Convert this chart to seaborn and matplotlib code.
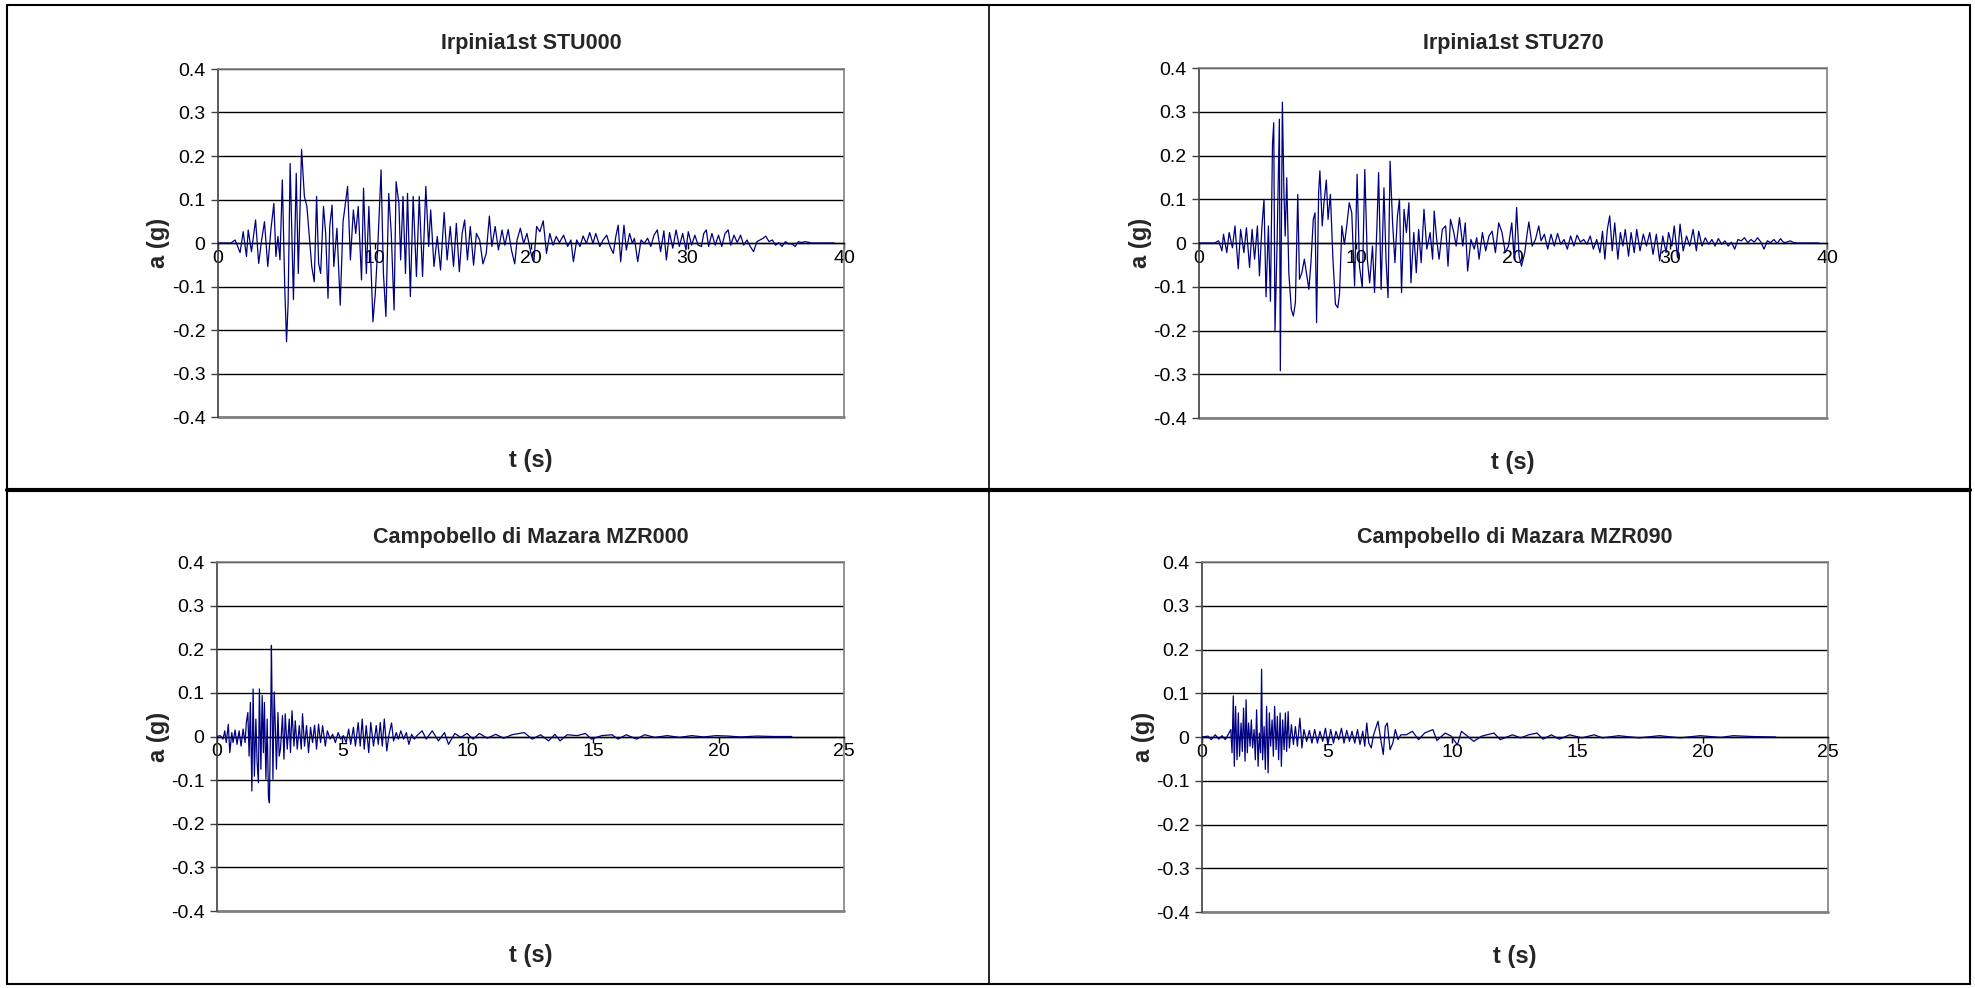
import matplotlib
matplotlib.use("Agg")
import matplotlib.pyplot as plt
import seaborn as sns
import pandas as pd
from matplotlib.lines import Line2D

# ---------------- data ----------------
titles = ["Irpinia1st STU000", "Irpinia1st STU270",
          "Campobello di Mazara MZR000", "Campobello di Mazara MZR090"]
y_ticks = [0.4, 0.3, 0.2, 0.1, 0.0, -0.1, -0.2, -0.3, -0.4]
y_tick_labels = ["0.4", "0.3", "0.2", "0.1", "0", "-0.1", "-0.2", "-0.3", "-0.4"]
x_ticks_irpinia = [0, 10, 20, 30, 40]
x_ticks_campobello = [0, 5, 10, 15, 20, 25]
x_label = "t (s)"
y_label = "a (g)"

stu000_t = [0, 0.83, 1.09, 1.41, 1.61, 1.82, 1.93, 2.14, 2.40, 2.60, 2.79, 2.97, 3.18, 3.39, 3.57, 3.70,
            3.83, 3.96, 4.11, 4.27, 4.38, 4.48, 4.61, 4.82, 5.00, 5.13, 5.34, 5.52, 5.68, 5.81, 5.99,
            6.15, 6.30, 6.43, 6.56, 6.74, 6.88, 7.03, 7.14, 7.29, 7.40, 7.60, 7.81, 7.99, 8.28, 8.46,
            8.65, 8.80, 8.96, 9.17, 9.30, 9.48, 9.64, 9.90, 10.05, 10.21, 10.42, 10.57, 10.73, 10.91,
            11.07, 11.25, 11.38, 11.56, 11.67, 11.82, 11.98, 12.11, 12.29, 12.47, 12.68, 12.86, 13.07,
            13.28, 13.46, 13.59, 13.80, 14.01, 14.22, 14.45, 14.64, 14.84, 15.05, 15.23, 15.42, 15.60,
            15.76, 15.94, 16.12, 16.33, 16.51, 16.72, 16.93, 17.14, 17.34, 17.50, 17.71, 17.92, 18.15,
            18.33, 18.54, 18.75, 18.96, 19.11, 19.32, 19.53, 19.74, 20.00, 20.18, 20.36, 20.57, 20.78,
            20.99, 21.20, 21.41, 21.61, 21.82, 22.08, 22.34, 22.55, 22.71, 22.92, 23.13, 23.33, 23.54,
            23.75, 23.96, 24.14, 24.40, 24.61, 24.84, 25.05, 25.26, 25.42, 25.57, 25.73, 25.94, 26.09,
            26.30, 26.48, 26.61, 26.82, 27.03, 27.24, 27.45, 27.66, 27.86, 28.07, 28.28, 28.49, 28.65,
            28.85, 29.06, 29.27, 29.48, 29.69, 29.90, 30.05, 30.26, 30.47, 30.68, 30.89, 31.04, 31.20,
            31.35, 31.56, 31.77, 31.98, 32.19, 32.40, 32.60, 32.76, 32.97, 33.18, 33.39, 33.59, 33.80,
            34.01, 34.22, 34.43, 34.64, 34.84, 35.00, 35.21, 35.42, 35.63, 35.83, 36.04, 36.25, 36.46,
            36.67, 36.88, 37.08, 37.29, 37.50, 37.71, 37.92, 39.38]
stu000_a = [0, 0, 0.007, -0.022, 0.026, -0.031, 0.030, -0.020, 0.053, -0.047, 0.007, 0.049, -0.054, 0.034,
            0.091, -0.031, 0.015, -0.039, 0.145, -0.108, -0.227, -0.139, 0.183, -0.130, 0.160, -0.070,
            0.215, 0.107, 0.084, 0.026, -0.054, -0.089, 0.107, -0.047, -0.070, 0.084, 0.022, -0.127,
            0.038, 0.087, -0.054, 0.034, -0.143, 0.049, 0.130, -0.039, 0.076, 0.022, 0.084, -0.085,
            0.126, -0.070, 0.084, -0.181, -0.116, -0.008, 0.168, -0.070, -0.169, 0.114, 0.022, -0.154,
            0.141, 0.091, -0.039, 0.107, -0.070, 0.114, -0.123, 0.107, -0.077, 0.107, -0.077, 0.130,
            -0.008, 0.076, -0.054, 0.015, -0.062, 0.070, -0.039, 0.038, -0.054, 0.045, -0.066, 0.022,
            0.053, -0.039, 0.038, -0.051, 0.022, 0.007, -0.048, -0.024, 0.062, -0.008, 0.038, -0.016,
            0.030, -0.005, 0.031, -0.016, -0.048, 0.007, 0.034, -0.001, 0.022, -0.024, -0.043, 0.038,
            0.026, 0.051, -0.024, 0.022, -0.005, 0.015, 0.001, 0.018, -0.008, 0.007, -0.043, 0.007,
            -0.008, 0.016, -0.001, 0.024, -0.001, 0.022, -0.008, 0.007, 0.018, -0.008, -0.024, 0.015,
            0.041, -0.043, 0.041, -0.016, 0.022, -0.001, 0.011, -0.043, 0.007, -0.001, 0.011, -0.008,
            0.018, 0.030, -0.020, 0.028, -0.039, 0.024, -0.012, 0.030, -0.008, 0.022, -0.016, 0.026,
            -0.005, 0.018, -0.005, -0.008, 0.022, 0.030, -0.008, 0.022, -0.005, 0.018, -0.008, 0.022,
            0.030, -0.005, 0.018, 0.001, 0.018, -0.005, 0.007, -0.008, -0.020, 0.003, 0.007, 0.011,
            0.016, 0.003, 0.007, -0.005, 0.001, -0.008, 0.003, -0.002, -0.002, -0.008, 0.003, 0.001,
            0.003, 0.002, 0, 0]

stu270_t = [0, 0.99, 1.25, 1.46, 1.56, 1.77, 1.92, 2.13, 2.29, 2.50, 2.65, 2.86, 3.02, 3.22, 3.38, 3.54,
            3.72, 3.85, 4.01, 4.14, 4.27, 4.42, 4.55, 4.68, 4.76, 4.84, 4.97, 5.12, 5.18, 5.31, 5.41,
            5.49, 5.59, 5.72, 5.88, 6.01, 6.14, 6.29, 6.40, 6.55, 6.71, 6.87, 7.00, 7.13, 7.28, 7.39,
            7.49, 7.62, 7.70, 7.85, 7.96, 8.11, 8.22, 8.37, 8.53, 8.69, 8.84, 8.95, 9.10, 9.26, 9.41,
            9.57, 9.73, 9.91, 10.07, 10.22, 10.40, 10.56, 10.72, 10.87, 11.05, 11.18, 11.34, 11.44,
            11.60, 11.78, 11.91, 12.04, 12.17, 12.33, 12.48, 12.64, 12.77, 12.90, 13.06, 13.21, 13.37,
            13.50, 13.68, 13.84, 13.99, 14.15, 14.33, 14.51, 14.72, 14.88, 14.98, 15.14, 15.29, 15.50,
            15.71, 15.86, 16.02, 16.23, 16.38, 16.59, 16.80, 16.96, 17.11, 17.32, 17.53, 17.69, 17.84,
            18.05, 18.26, 18.47, 18.67, 18.88, 19.09, 19.30, 19.51, 19.71, 19.92, 20.08, 20.23, 20.39,
            20.54, 20.75, 20.91, 21.01, 21.22, 21.43, 21.64, 21.79, 22.00, 22.21, 22.42, 22.63, 22.84,
            23.04, 23.25, 23.46, 23.67, 23.88, 24.08, 24.29, 24.50, 24.71, 24.92, 25.12, 25.33, 25.54,
            25.70, 25.85, 26.01, 26.16, 26.32, 26.48, 26.68, 26.84, 27.00, 27.15, 27.36, 27.52, 27.72,
            27.88, 28.09, 28.30, 28.50, 28.71, 28.92, 29.13, 29.34, 29.54, 29.75, 29.91, 30.12, 30.27,
            30.48, 30.64, 30.84, 31.05, 31.26, 31.47, 31.68, 31.83, 32.04, 32.25, 32.46, 32.67, 32.87,
            33.08, 33.29, 33.50, 33.71, 33.91, 34.12, 34.33, 34.54, 34.74, 34.95, 35.16, 35.37, 35.58,
            35.79, 35.99, 36.20, 36.41, 36.62, 36.83, 37.04, 37.24, 37.45, 37.66, 37.87, 38.08, 39.48]
stu270_a = [0, 0, 0.005, -0.018, 0.020, -0.022, 0.024, -0.011, 0.039, -0.059, 0.031, -0.022, 0.035,
            -0.056, 0.031, -0.037, 0.039, -0.075, 0.039, 0.100, -0.123, 0.039, -0.133, 0.225, 0.275,
            -0.201, -0.007, 0.283, -0.292, 0.322, 0.115, 0.016, 0.149, -0.068, -0.152, -0.167, -0.136,
            0.111, -0.083, -0.068, -0.037, -0.075, -0.106, -0.045, 0.054, 0.069, -0.182, 0.115, 0.165,
            0.039, 0.092, 0.144, 0.054, 0.111, -0.037, -0.140, -0.148, -0.117, 0.039, -0.003, 0.039,
            0.092, 0.069, -0.098, 0.157, -0.053, -0.102, 0.168, -0.037, -0.091, -0.007, -0.113, 0.046,
            0.161, -0.106, 0.126, -0.037, -0.125, 0.187, 0.046, -0.045, 0.062, 0.100, -0.113, 0.077,
            0.024, 0.092, -0.091, 0.024, -0.068, 0.031, -0.045, 0.077, -0.014, 0.024, -0.037, 0.073,
            0.008, -0.037, 0.031, 0.039, -0.053, 0.054, 0.024, -0.007, 0.058, -0.007, 0.046, -0.064,
            0.008, -0.014, 0.012, -0.037, 0.024, -0.018, 0.016, 0.027, -0.022, 0.046, 0.024, -0.022,
            -0.007, 0.046, -0.037, 0.081, -0.030, -0.053, -0.022, 0.024, 0.048, -0.007, 0.008, 0.039,
            0.005, 0.020, -0.014, 0.020, -0.007, 0.022, -0.003, 0.008, -0.014, 0.016, -0.007, 0.018,
            0.002, 0.008, -0.003, 0.016, -0.014, 0.008, -0.022, 0.027, -0.037, 0.031, 0.062, -0.018,
            0.046, -0.037, 0.024, -0.007, 0.031, -0.030, 0.024, -0.022, 0.031, -0.018, 0.020, -0.007,
            0.024, -0.026, 0.020, -0.041, 0.016, -0.022, 0.024, -0.007, 0.039, -0.034, 0.043, -0.018,
            0.016, -0.007, 0.031, -0.018, 0.027, -0.007, 0.012, -0.003, 0.008, -0.007, 0.010, -0.003,
            0.005, -0.007, 0.002, -0.014, 0.008, 0.005, 0.012, 0.001, 0.008, 0.002, 0.012, 0.002,
            -0.014, 0.005, 0.001, 0.008, -0.001, 0.010, 0.001, 0.002, 0.005, 0.001, 0, 0]

mzr000_t = [0, 0.13, 0.24, 0.31, 0.37, 0.45, 0.51, 0.59, 0.64, 0.72, 0.80, 0.88, 0.96, 1.04, 1.12, 1.17,
            1.23, 1.28, 1.33, 1.39, 1.44, 1.49, 1.55, 1.60, 1.65, 1.69, 1.75, 1.80, 1.85, 1.89, 1.95,
            2.00, 2.05, 2.09, 2.15, 2.17, 2.23, 2.28, 2.32, 2.37, 2.43, 2.48, 2.53, 2.61, 2.67, 2.72,
            2.80, 2.88, 2.93, 2.99, 3.07, 3.12, 3.20, 3.28, 3.36, 3.41, 3.49, 3.57, 3.65, 3.73, 3.81,
            3.89, 3.97, 4.05, 4.13, 4.21, 4.32, 4.40, 4.51, 4.61, 4.72, 4.83, 4.93, 5.04, 5.15, 5.25,
            5.33, 5.44, 5.52, 5.63, 5.71, 5.79, 5.87, 5.95, 6.05, 6.13, 6.24, 6.35, 6.43, 6.51, 6.59,
            6.67, 6.77, 6.85, 6.96, 7.04, 7.15, 7.23, 7.33, 7.44, 7.55, 7.65, 7.76, 7.87, 7.97, 8.18,
            8.34, 8.58, 8.83, 9.07, 9.23, 9.48, 9.72, 9.97, 10.21, 10.46, 10.78, 11.11, 11.43, 11.76,
            12.25, 12.57, 12.90, 13.22, 13.47, 13.68, 13.96, 14.36, 14.69, 14.93, 15.34, 15.75, 15.99,
            16.32, 16.73, 17.05, 17.46, 17.95, 18.44, 18.93, 19.41, 19.90, 20.39, 20.88, 21.53, 22.18,
            22.92]
mzr000_a = [0, 0.002, -0.006, 0.013, -0.014, 0.028, -0.037, 0.009, -0.014, 0.015, -0.018, 0.013, -0.022,
            0.017, -0.014, 0.032, 0.055, -0.045, 0.078, -0.125, 0.109, -0.091, 0.040, -0.060, -0.106,
            0.109, -0.075, 0.094, -0.037, 0.078, -0.098, 0.040, -0.137, -0.152, 0.094, 0.209, -0.098,
            0.102, 0.032, -0.075, 0.055, -0.045, -0.029, 0.048, -0.052, 0.052, -0.029, 0.040, -0.037,
            0.059, -0.022, 0.036, -0.029, 0.025, -0.029, 0.052, -0.022, 0.025, -0.037, 0.021, -0.014,
            0.026, -0.029, 0.028, -0.014, 0.025, -0.022, 0.013, -0.006, 0.005, -0.014, 0.009, -0.006,
            0.002, -0.014, 0.017, -0.018, 0.021, -0.022, 0.032, -0.022, 0.040, -0.029, 0.025, -0.037,
            0.032, -0.022, 0.025, -0.018, 0.032, -0.022, 0.040, -0.033, 0.002, 0.031, -0.010, 0.009,
            -0.006, 0.013, -0.006, 0.009, -0.018, 0.005, -0.006, 0.002, 0.013, -0.006, 0.013, -0.010,
            0.009, -0.018, 0.007, -0.002, 0.007, -0.006, 0.007, -0.004, 0.005, -0.004, 0.004, 0.009,
            -0.006, 0.004, -0.010, 0.005, -0.010, 0.004, 0.002, 0.007, -0.006, 0.002, 0.004, -0.006,
            0.004, -0.006, 0.004, -0.002, 0.002, -0.002, 0.002, -0.001, 0.002, 0.001, -0.001, 0.001,
            0, 0]

mzr090_t = [0, 0.24, 0.37, 0.53, 0.67, 0.80, 0.93, 1.07, 1.15, 1.20, 1.25, 1.29, 1.34, 1.40, 1.45, 1.50,
            1.56, 1.61, 1.66, 1.72, 1.76, 1.81, 1.86, 1.92, 1.97, 2.02, 2.08, 2.13, 2.18, 2.24, 2.29,
            2.34, 2.38, 2.42, 2.48, 2.53, 2.58, 2.64, 2.69, 2.74, 2.80, 2.85, 2.90, 2.96, 3.01, 3.06,
            3.12, 3.17, 3.22, 3.28, 3.33, 3.38, 3.44, 3.49, 3.57, 3.65, 3.73, 3.81, 3.91, 3.99, 4.07,
            4.18, 4.29, 4.39, 4.50, 4.61, 4.71, 4.82, 4.93, 5.03, 5.14, 5.25, 5.35, 5.46, 5.57, 5.67,
            5.78, 5.89, 5.99, 6.10, 6.21, 6.31, 6.42, 6.50, 6.58, 6.66, 6.76, 6.84, 6.92, 7.03, 7.14,
            7.24, 7.32, 7.40, 7.51, 7.62, 7.72, 7.83, 7.94, 8.16, 8.40, 8.65, 8.89, 9.22, 9.38, 9.71,
            9.95, 10.20, 10.36, 10.60, 10.85, 11.17, 11.66, 11.91, 12.40, 12.72, 13.05, 13.38, 13.62,
            13.95, 14.27, 14.68, 15.17, 15.66, 15.99, 16.64, 17.46, 18.27, 19.09, 19.90, 20.72, 21.21,
            22.02, 22.92]
mzr090_a = [0, 0.002, -0.006, 0.005, -0.005, 0.003, -0.006, 0.008, 0.017, -0.036, 0.094, -0.067, 0.070,
            -0.052, 0.055, -0.044, 0.032, -0.033, 0.066, -0.055, 0.085, -0.036, 0.032, -0.021, 0.039,
            -0.025, 0.017, -0.052, 0.062, -0.067, 0.009, -0.036, 0.155, -0.052, 0.024, -0.074, 0.070,
            -0.082, 0.055, -0.021, 0.039, -0.044, 0.070, -0.029, 0.047, -0.052, 0.055, -0.067, 0.039,
            -0.029, 0.055, -0.033, 0.058, -0.025, 0.028, -0.017, 0.024, -0.021, 0.043, -0.025, 0.017,
            -0.010, 0.015, -0.014, 0.017, -0.014, 0.013, -0.010, 0.020, -0.017, 0.017, -0.014, 0.013,
            -0.006, 0.020, -0.014, 0.015, -0.010, 0.013, -0.014, 0.017, -0.017, 0.013, -0.021, 0.032,
            -0.014, -0.025, 0.002, 0.017, 0.036, -0.006, -0.040, 0.024, 0.032, -0.029, -0.014, 0.017,
            -0.006, 0.005, 0.005, 0.013, -0.006, 0.009, 0.017, -0.008, 0.009, 0.002, -0.018, 0.013,
            0.002, -0.010, 0.002, 0.009, -0.006, 0.005, -0.002, 0.005, 0.009, -0.005, 0.005, -0.005,
            0.005, -0.002, 0.005, -0.002, 0.003, -0.002, 0.003, -0.002, 0.003, -0.001, 0.003, 0.001, 0]

# ---------------- style ----------------
sns.set_theme(style="white")
plt.rcParams["font.family"] = ["Liberation Sans", "DejaVu Sans"]

W, H = 1975, 988
fig = plt.figure(figsize=(W / 100, H / 100), dpi=100)
fig.patch.set_facecolor("white")

LINE_COLOR = "#000080"


def frac_rect(left, top, right, bottom):
    return [left / W, 1 - bottom / H, (right - left) / W, (bottom - top) / H]


panels = [
    (frac_rect(218, 69, 844, 417), stu000_t, stu000_a, x_ticks_irpinia, titles[0]),
    (frac_rect(1199, 68, 1827, 418), stu270_t, stu270_a, x_ticks_irpinia, titles[1]),
    (frac_rect(217, 562, 844, 911), mzr000_t, mzr000_a, x_ticks_campobello, titles[2]),
    (frac_rect(1202, 562, 1828, 912), mzr090_t, mzr090_a, x_ticks_campobello, titles[3]),
]

for rect, t, a, xt, title in panels:
    ax = fig.add_axes(rect)
    df = pd.DataFrame({"t": t, "a": a})
    sns.lineplot(data=df, x="t", y="a", ax=ax, color=LINE_COLOR, linewidth=0.9,
                 estimator=None, sort=False, zorder=3)
    ax.set_xlim(xt[0], xt[-1])
    ax.set_ylim(-0.4, 0.4)
    ax.set_yticks(y_ticks)
    ax.set_yticklabels(y_tick_labels)
    ax.set_xticks(xt)
    ax.set_xticklabels([str(v) for v in xt])
    ax.set_xlabel("")
    ax.set_ylabel("")
    ax.set_facecolor("white")
    ax.grid(axis="y", color="#000000", linewidth=1.0, zorder=1)
    ax.grid(axis="x", visible=False)
    ax.set_axisbelow(True)
    ax.spines["bottom"].set_position(("data", 0))
    ax.spines["bottom"].set_color("black")
    ax.spines["bottom"].set_linewidth(1.0)
    ax.spines["left"].set_color("#404040")
    ax.spines["left"].set_linewidth(1.2)
    for s in ("top", "right"):
        ax.spines[s].set_color("#808080")
        ax.spines[s].set_linewidth(1.2)
        ax.spines[s].set_visible(True)
    # lower plot-area border (gray) at -0.4
    ax.axhline(-0.4, color="#808080", linewidth=2.0, zorder=2, clip_on=False)
    ax.tick_params(axis="y", left=True, direction="out", length=5, width=1,
                   color="#404040", labelsize=14, pad=4, labelcolor="black")
    ax.tick_params(axis="x", bottom=True, direction="out", length=4, width=1,
                   color="black", labelsize=14, pad=1, labelcolor="black")

    # panel texts
    x0, y0, w, h = rect
    cx = x0 + w / 2
    fig.text(cx, y0 + h + 25 / H, title, ha="center", va="center",
             fontsize=15.5, fontweight="bold")
    fig.text(cx, y0 - 44 / H, x_label, ha="center", va="center",
             fontsize=17, fontweight="bold")
    fig.text(x0 - 59 / W, y0 + h / 2, y_label, ha="center", va="center",
             rotation=90, fontsize=17, fontweight="bold")

# outer frame and dividers
frame = [
    ((7, 1970), (5, 5), 1.5),
    ((7, 1970), (984, 984), 1.5),
    ((7, 7), (5, 984), 1.5),
    ((1970, 1970), (5, 984), 1.5),
    ((989, 989), (5, 984), 1.2),
    ((7, 1970), (490, 490), 3.0),
]
for xs, ys, lw in frame:
    fig.add_artist(Line2D([x / W for x in xs], [1 - y / H for y in ys],
                          color="black", linewidth=lw, transform=fig.transFigure))

fig.savefig("out.png", dpi=100, facecolor="white")
